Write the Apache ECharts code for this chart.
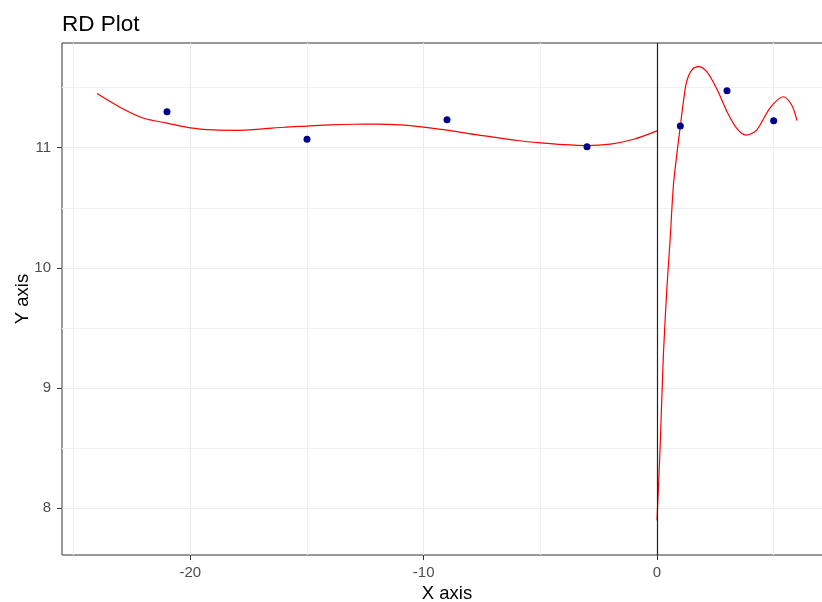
<!DOCTYPE html>
<html>
<head>
<meta charset="utf-8">
<script src="https://cdn.jsdelivr.net/npm/echarts@6/dist/echarts.min.js"></script>
<style>html,body{margin:0;padding:0;background:#fff;}#c{width:822px;height:602px;}</style>
</head>
<body>
<div id="c"></div>
<script>
const xMajor = [-20, -10, 0];
const xMinor = [-25, -15, -5, 5];
const yMajor = [8, 9, 10, 11];
const yMinor = [8.5, 9.5, 10.5, 11.5];

const pointsX = [-21, -15, -9, -3, 1, 3, 5];
const pointsY = [11.30, 11.07, 11.233, 11.008, 11.18, 11.474, 11.225];

const leftX = [-24, -23, -22, -21, -20, -19, -18, -17, -16, -15, -14, -13, -12, -11, -10, -9, -8, -7, -6, -5, -4, -3, -2, -1, 0];
const leftY = [11.45, 11.335, 11.245, 11.205, 11.165, 11.148, 11.145, 11.155, 11.17, 11.18, 11.19, 11.195, 11.196, 11.19, 11.172, 11.147, 11.115, 11.088, 11.06, 11.04, 11.025, 11.018, 11.03, 11.07, 11.14];

const rightX = [0, 0.13, 0.27, 0.42, 0.56, 0.7, 0.84, 1.0, 1.13, 1.27, 1.49, 1.77, 2.13, 2.56, 3.0, 3.42, 3.81, 4.27, 4.84, 5.41, 5.77, 6.0];
const rightY = [7.9, 8.49, 9.26, 9.82, 10.23, 10.68, 10.93, 11.18, 11.38, 11.55, 11.646, 11.674, 11.632, 11.49, 11.30, 11.16, 11.105, 11.147, 11.33, 11.424, 11.355, 11.225];

const vlineX = 0;

const FONT = "'Liberation Sans', Arial, sans-serif";
const zip = (a, b) => a.map((v, i) => [v, b[i]]);

const chart = echarts.init(document.getElementById('c'), null, {renderer: 'canvas'});
const xRange = {min: -25.5, max: 7.5};
const yRange = {min: 7.612, max: 11.871};

chart.setOption({
  animation: false,
  backgroundColor: '#ffffff',
  title: {
    text: 'RD Plot', left: 57, top: 8,
    textStyle: {fontFamily: FONT, fontSize: 22.5, fontWeight: 'normal', color: '#000'}
  },
  grid: {left: 62, top: 43, right: -10, bottom: 47, containLabel: false, outerBoundsMode: 'none',
         show: true, borderColor: '#333333', borderWidth: 1, backgroundColor: 'transparent'},
  xAxis: [
    {
      type: 'value', ...xRange, gridIndex: 0,
      name: 'X axis', nameLocation: 'middle', nameGap: 29, nameMoveOverlap: false,
      nameTextStyle: {fontFamily: FONT, fontSize: 18.5, color: '#000'},
      axisLine: {show: false, onZero: false},
      axisTick: {show: true, length: 5, lineStyle: {color: '#333333', width: 1}, customValues: xMajor},
      axisLabel: {fontFamily: FONT, fontSize: 15, color: '#4D4D4D', margin: 10, customValues: xMajor},
      splitLine: {show: true, lineStyle: {color: '#EBEBEB', width: 1}}
    },
    {
      type: 'value', ...xRange, gridIndex: 0, position: 'bottom',
      axisLine: {show: false, onZero: false},
      axisTick: {show: false, customValues: xMinor},
      axisLabel: {show: false, customValues: xMinor},
      splitLine: {show: true, lineStyle: {color: '#F0F0F0', width: 1}}
    }
  ],
  yAxis: [
    {
      type: 'value', ...yRange, gridIndex: 0,
      name: 'Y axis', nameLocation: 'middle', nameGap: 30, nameMoveOverlap: false,
      nameTextStyle: {fontFamily: FONT, fontSize: 18.5, color: '#000'},
      axisLine: {show: false, onZero: false},
      axisTick: {show: true, length: 5, lineStyle: {color: '#333333', width: 1}, customValues: yMajor},
      axisLabel: {fontFamily: FONT, fontSize: 15, color: '#4D4D4D', margin: 11, customValues: yMajor},
      splitLine: {show: true, lineStyle: {color: '#EBEBEB', width: 1}}
    },
    {
      type: 'value', ...yRange, gridIndex: 0, position: 'left',
      axisLine: {show: false, onZero: false},
      axisTick: {show: false, customValues: yMinor},
      axisLabel: {show: false, customValues: yMinor},
      splitLine: {show: true, lineStyle: {color: '#F0F0F0', width: 1}}
    }
  ],
  series: [
    {
      type: 'line', name: 'left', data: zip(leftX, leftY), smooth: 0.3, showSymbol: false,
      lineStyle: {color: '#FF0000', width: 1.2}, z: 3
    },
    {
      type: 'line', name: 'right', data: zip(rightX, rightY), smooth: 0.3, showSymbol: false,
      lineStyle: {color: '#FF0000', width: 1.2}, z: 3,
      markLine: {
        silent: true, symbol: 'none', label: {show: false},
        lineStyle: {color: '#222222', width: 1.2, type: 'solid'},
        data: [{xAxis: vlineX}]
      }
    },
    {
      type: 'scatter', name: 'pts', data: zip(pointsX, pointsY), symbolSize: 7,
      itemStyle: {color: '#00008B', opacity: 1}, z: 4
    }
  ]
});
</script>
</body>
</html>
